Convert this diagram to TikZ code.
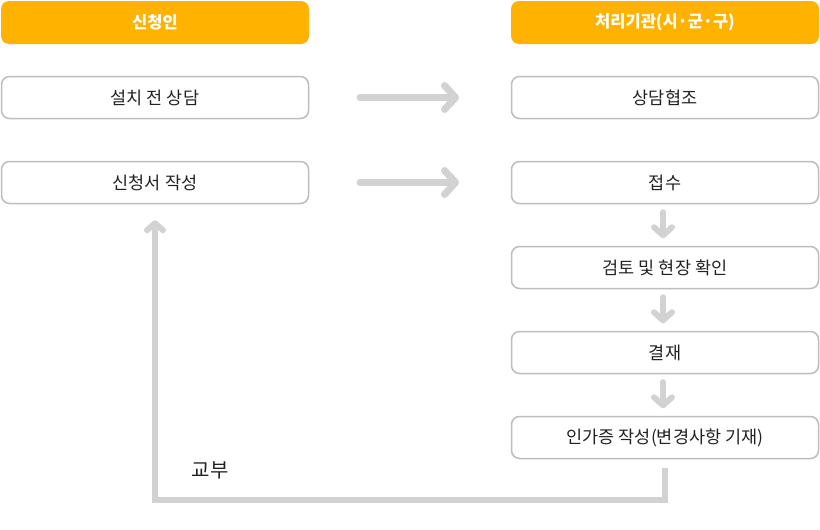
\documentclass[tikz,border=0pt]{standalone}
\usepackage{fontspec}
\setmainfont{Noto Sans CJK KR}
\usetikzlibrary{arrows.meta}
\definecolor{hdr}{HTML}{FFB300}
\definecolor{bd}{HTML}{BDBDBD}
\definecolor{arr}{HTML}{D2D2D2}
\definecolor{txt}{HTML}{222222}
\begin{document}
\begin{tikzpicture}[x=1pt,y=-1pt,
  head/.style={fill=hdr,rounded corners=8pt,minimum width=308pt,minimum height=43pt,inner sep=0pt,text=white,font=\fontsize{16.5}{19}\selectfont\bfseries},
  box/.style={draw=bd,line width=1.5pt,fill=white,rounded corners=8pt,minimum width=307pt,minimum height=42pt,inner sep=0pt,text=txt,font=\fontsize{17.5}{20}\selectfont},
  bigarr/.style={draw=arr,line width=7pt,line cap=round,line join=round,-{Straight Barb[length=11pt,width=24pt,line width=7pt,round]}},
  smallarr/.style={draw=arr,line width=6pt,line cap=round,line join=round,-{Straight Barb[length=8pt,width=18pt,line width=6pt,round]}},
  retarr/.style={draw=arr,line width=6pt,line join=miter,-{Straight Barb[length=7pt,width=16pt,line width=6pt,round]}}]
\useasboundingbox (0,0) rectangle (820,530);
\node[head] (h1) at (155,22.5) {신청인};
\node[head] (h2) at (665,22.5) {처리기관(시·군·구)};
\node[box] (a1) at (155,97.5) {설치 전 상담};
\node[box] (a2) at (155,182.5) {신청서 작성};
\node[box] (b1) at (665,97.5) {상담협조};
\node[box] (b2) at (665,182.5) {접수};
\node[box] (b3) at (665,267.5) {검토 및 현장 확인};
\node[box] (b4) at (665,352.5) {결재};
\node[box] (b5) at (665,437.5) {인가증 작성(변경사항 기재)};
\coordinate (p1) at (360,97.5); \coordinate (q1) at (459,97.5);
\coordinate (p2) at (360,182.5); \coordinate (q2) at (459,182.5);
\draw[bigarr] (p1) -- (q1);
\draw[bigarr] (p2) -- (q2);
\foreach \n in {b2,b3,b4}{
  \draw[smallarr] ([xshift=-2pt,yshift=-8pt]\n.south) -- ++(0,26);
}
\draw[retarr] (665,468) -- (665,500) -- (155,500) -- ([yshift=-16pt]a2.south -| 155,0);
\node[font=\fontsize{20}{24}\selectfont,text=txt] (lab) at (210,470) {교부};
\end{tikzpicture}
\end{document}
